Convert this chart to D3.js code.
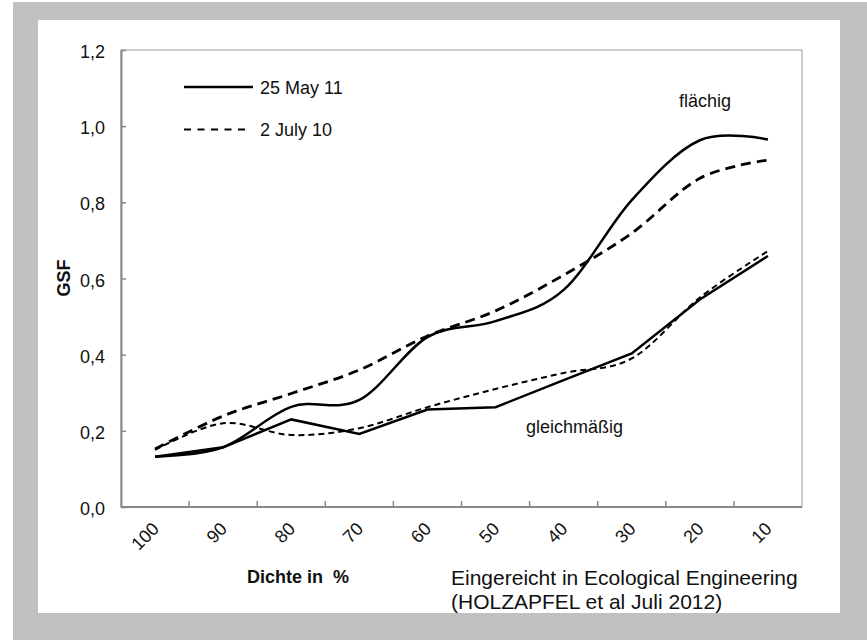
<!DOCTYPE html>
<html>
<head>
<meta charset="utf-8">
<script src="https://cdn.jsdelivr.net/npm/d3@7"></script>
<style>
  html, body { margin: 0; padding: 0; background: #ffffff; }
  svg { display: block; }
  text { font-family: "Liberation Sans", Arial, sans-serif; fill: #111; }
</style>
</head>
<body>
<svg id="chart" width="867" height="640"></svg>
<script>
// ---- data ----
const categories = ["100", "90", "80", "70", "60", "50", "40", "30", "20", "10"];
const flaechigMay  = [0.132, 0.157, 0.263, 0.281, 0.446, 0.488, 0.570, 0.806, 0.963, 0.965];
const flaechigJuly = [0.152, 0.239, 0.298, 0.360, 0.449, 0.515, 0.609, 0.719, 0.863, 0.911];
const gleichMay    = [0.132, 0.157, 0.230, 0.192, 0.256, 0.262, 0.333, 0.403, 0.545, 0.659];
const gleichJuly   = [0.150, 0.220, 0.189, 0.207, 0.262, 0.310, 0.352, 0.390, 0.550, 0.672];
const yTicks = [0, 0.2, 0.4, 0.6, 0.8, 1.0, 1.2];
const legendLabels = ["25 May 11", "2 July 10"];

// ---- layout ----
const svg = d3.select("#chart");
const W = 867, H = 640;
const plot = { left: 121, right: 802, top: 50, bottom: 507 };

// frame
svg.append("rect").attr("x", 13).attr("y", 2).attr("width", W - 13).attr("height", H - 2).attr("fill", "#c0c0c0");
svg.append("rect").attr("x", 38).attr("y", 20).attr("width", 840 - 38).attr("height", 613 - 20).attr("fill", "#ffffff");

const x = d3.scaleBand().domain(categories).range([plot.left, plot.right]).padding(0);
const y = d3.scaleLinear().domain([0, 1.2]).range([plot.bottom, plot.top]);
const cx = c => x(c) + x.bandwidth() / 2;

// plot border
svg.append("rect")
  .attr("x", plot.left).attr("y", plot.top)
  .attr("width", plot.right - plot.left).attr("height", plot.bottom - plot.top)
  .attr("fill", "none").attr("stroke", "#999").attr("stroke-width", 1);

// y axis
const fmt = v => d3.format(".1f")(v).replace(".", ",");
const yAxis = d3.axisLeft(y).tickValues(yTicks).tickFormat(fmt).tickSizeInner(-5).tickSizeOuter(0).tickPadding(16);
const gy = svg.append("g").attr("transform", `translate(${plot.left},0)`).call(yAxis);
gy.select(".domain").attr("stroke", "#888").attr("stroke-width", 2);
gy.selectAll(".tick line").attr("stroke", "#888").attr("stroke-width", 1.5);
gy.selectAll(".tick text").attr("font-size", 18).attr("font-family", "Liberation Sans, Arial, sans-serif").attr("fill", "#111").attr("dy", "0.42em");

// x axis (ticks at category boundaries)
const gx = svg.append("g");
gx.append("line").attr("x1", plot.left).attr("x2", plot.right).attr("y1", plot.bottom).attr("y2", plot.bottom)
  .attr("stroke", "#888").attr("stroke-width", 2);
const bounds = categories.map(c => x(c)).concat([plot.right]);
gx.selectAll("line.tk").data(bounds.slice(1, -1)).enter().append("line").attr("class", "tk")
  .attr("x1", d => d).attr("x2", d => d).attr("y1", plot.bottom).attr("y2", plot.bottom - 6)
  .attr("stroke", "#888").attr("stroke-width", 1.5);
gx.selectAll("text.xl").data(categories).enter().append("text").attr("class", "xl")
  .attr("transform", d => `translate(${cx(d) + 5},${530}) rotate(-45)`)
  .attr("text-anchor", "end").attr("font-size", 18).text(d => d);

// axis titles
svg.append("text").attr("x", 298).attr("y", 583).attr("text-anchor", "middle")
  .attr("font-size", 18).attr("font-weight", "bold").attr("xml:space", "preserve").style("white-space", "pre").text("Dichte in  %");
svg.append("text").attr("transform", "translate(70,278) rotate(-90)").attr("text-anchor", "middle")
  .attr("font-size", 18).attr("font-weight", "bold").text("GSF");

// series
const smooth = d3.line().x((d, i) => cx(categories[i])).y(d => y(d)).curve(d3.curveCardinal.tension(0));
const straight = d3.line().x((d, i) => cx(categories[i])).y(d => y(d)).curve(d3.curveLinear);

svg.append("path").datum(gleichJuly).attr("d", smooth).attr("fill", "none").attr("stroke", "#000")
  .attr("stroke-width", 2).attr("stroke-dasharray", "6,4");
svg.append("path").datum(gleichMay).attr("d", straight).attr("fill", "none").attr("stroke", "#000")
  .attr("stroke-width", 2.5).attr("stroke-linejoin", "miter");
svg.append("path").datum(flaechigJuly).attr("d", smooth).attr("fill", "none").attr("stroke", "#000")
  .attr("stroke-width", 2.8).attr("stroke-dasharray", "10,6");
svg.append("path").datum(flaechigMay).attr("d", smooth).attr("fill", "none").attr("stroke", "#000")
  .attr("stroke-width", 2.5);

// legend
svg.append("line").attr("x1", 184).attr("x2", 253).attr("y1", 87).attr("y2", 87).attr("stroke", "#000").attr("stroke-width", 2.5);
svg.append("line").attr("x1", 184).attr("x2", 246).attr("y1", 129.5).attr("y2", 129.5).attr("stroke", "#000").attr("stroke-width", 1.8).attr("stroke-dasharray", "7,6.5");
svg.append("text").attr("x", 260).attr("y", 94).attr("font-size", 18).text(legendLabels[0]);
svg.append("text").attr("x", 260).attr("y", 136).attr("font-size", 18).text(legendLabels[1]);

// annotations
svg.append("text").attr("x", 679).attr("y", 107).attr("font-size", 18).text("flächig");
svg.append("text").attr("x", 526).attr("y", 433).attr("font-size", 18).text("gleichmäßig");
svg.append("text").attr("x", 451).attr("y", 585).attr("font-size", 21).text("Eingereicht in Ecological Engineering");
svg.append("text").attr("x", 451).attr("y", 609).attr("font-size", 21).text("(HOLZAPFEL et al Juli 2012)");

// clip overflow of second line under gray frame (bottom band drawn last)
svg.append("rect").attr("x", 13).attr("y", 613).attr("width", W - 13).attr("height", H - 613).attr("fill", "#c0c0c0");
</script>
</body>
</html>
